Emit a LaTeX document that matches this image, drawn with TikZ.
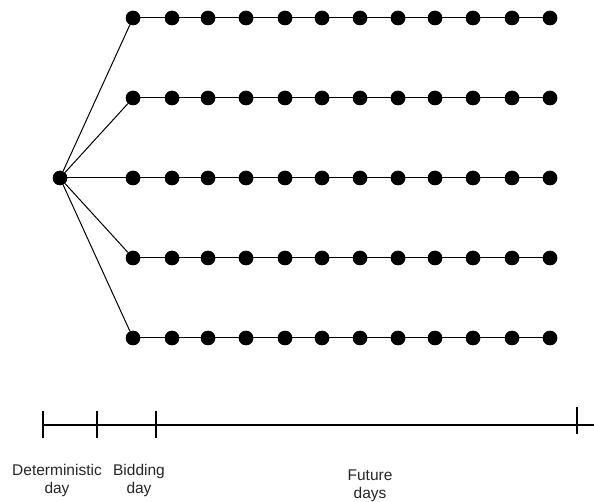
\documentclass[tikz,border=0pt]{standalone}
\usepackage{fontspec}
\setmainfont{Liberation Sans}
\begin{document}
\begin{tikzpicture}[x=1pt,y=-1pt,
  dot/.style={circle,fill=black,inner sep=0pt,minimum size=14.5pt},
  link/.style={line width=1pt,black},
  axis/.style={line width=1.2pt,black},
  lbl/.style={font=\fontsize{15.5}{18}\selectfont,align=center,anchor=base,inner sep=0pt,text=black!85}]
\useasboundingbox (0,0) rectangle (594,502);
% root of the scenario tree
\node[dot] (root) at (60,178) {};
% five scenario rows of twelve days each
\foreach \r/\y in {1/18,2/98,3/178,4/258,5/338}{
  \foreach \c/\x in {1/133,2/172,3/208,4/246,5/285,6/322,7/360,8/398,9/435,10/473,11/512,12/550}{
    \node[dot] (d-\r-\c) at (\x,\y) {};
  }
  \draw[link] (root) -- (d-\r-1);
  \draw[link] (d-\r-1) -- (d-\r-12);
}
% redraw dots over the connectors
\foreach \r/\y in {1/18,2/98,3/178,4/258,5/338}{
  \foreach \c/\x in {1/133,2/172,3/208,4/246,5/285,6/322,7/360,8/398,9/435,10/473,11/512,12/550}{
    \node[dot] at (\x,\y) {};
  }
}
\node[dot] at (60,178) {};
% time axis
\coordinate (t0) at (43,425);
\coordinate (t1) at (97,425);
\coordinate (t2) at (156,425);
\coordinate (t3) at (577,425);
\coordinate (tend) at (594,425);
\draw[axis] (t0) -- (tend);
\foreach \t in {t0,t1,t2}{
  \draw[axis] ([yshift=-13pt]\t) -- ([yshift=14pt]\t);
}
\draw[axis] ([yshift=-9pt]t3) -- ([yshift=18pt]t3);
% period labels (anchored at the baseline of their second line)
\node[lbl] (det) at (57,493) {Deterministic\\day};
\node[lbl] (bid) at (139,493) {Bidding\\day};
\node[lbl] (fut) at (370,498) {Future\\days};
\end{tikzpicture}
\end{document}
